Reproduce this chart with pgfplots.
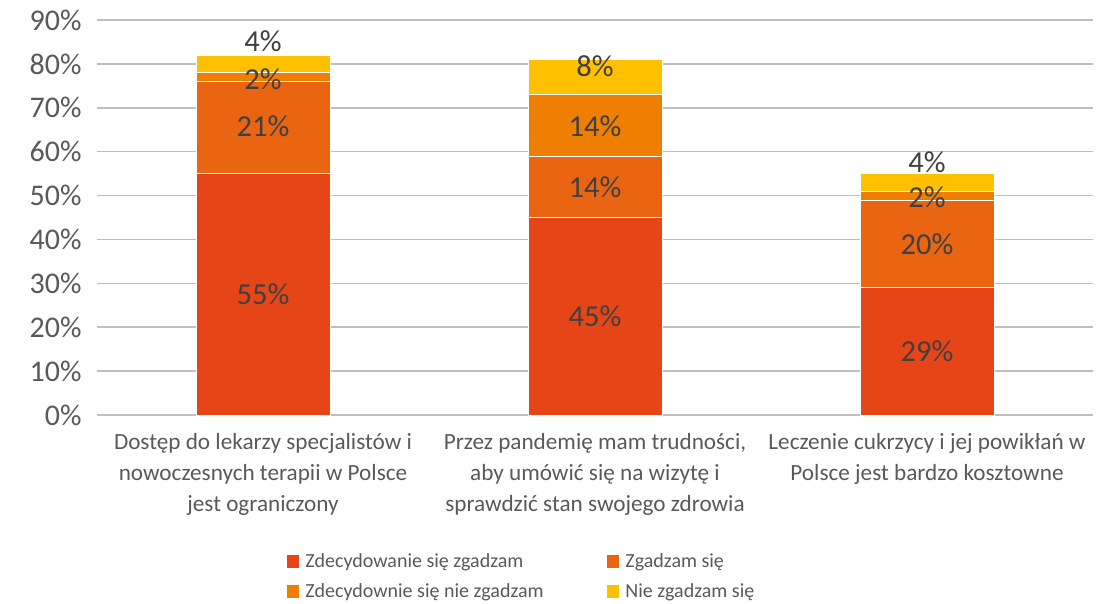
\documentclass[border=0pt]{standalone}
\usepackage{fontspec}
\setmainfont{Carlito}
\usepackage{pgfplots}
\pgfplotsset{compat=1.18}
\definecolor{cA}{HTML}{E64517}
\definecolor{cB}{HTML}{EA6512}
\definecolor{cC}{HTML}{EE7F00}
\definecolor{cD}{HTML}{FFC000}
\definecolor{grid}{HTML}{D9D9D9}
\definecolor{tick}{HTML}{595959}
\definecolor{lab}{HTML}{404040}
\begin{document}
\begin{tikzpicture}
\pgfplotsset{
  base/.style={
    scale only axis, width=996pt, height=395pt,
    xmin=-0.5, xmax=2.5, ymin=0, ymax=90,
    axis line style={draw=none},
  }
}
\begin{axis}[base,
  ybar stacked, bar width=134pt,
  ytick={0,10,...,90},
  ymajorgrids, xmajorgrids=false, grid style={grid, line width=1.5pt},
  major tick length=0pt, tick style={draw=none},
  yticklabel={\pgfmathprintnumber{\tick}\%},
  /pgf/number format/assume math mode=true,
  yticklabel style={font=\fontsize{30}{30}\selectfont, text=tick, xshift=-12pt},
  xtick={0,1,2},
  xticklabels={{Dostęp do lekarzy specjalistów i\\nowoczesnych terapii w Polsce\\jest ograniczony},
    {Przez pandemię mam trudności,\\aby umówić się na wizytę i\\sprawdzić stan swojego zdrowia},
    {Leczenie cukrzycy i jej powikłań w\\Polsce jest bardzo kosztowne}},
  xticklabel style={font=\fontsize{23.2}{31}\selectfont, text=tick, align=center, yshift=-15pt},
  legend columns=2,
  legend style={draw=none, fill=none, at={(0.188,-0.34)}, anchor=north west,
    font=\fontsize{20}{24}\selectfont, text=tick,
    nodes={text width=300pt, align=flush left, inner sep=2pt},
    row sep=11pt},
  legend image code/.code={\fill[#1, draw=none] (0pt,-6.5pt) rectangle (12pt,6.5pt);
    \path[draw=none, fill=none] (0pt,0pt) -- (16pt,0pt);},
  every axis plot/.append style={draw=white, line width=0.5pt},
]
\addplot[fill=cA] coordinates {(0,55) (1,45) (2,29)};
\addplot[fill=cB] coordinates {(0,21) (1,14) (2,20)};
\addplot[fill=cC] coordinates {(0,2) (1,14) (2,2)};
\addplot[fill=cD] coordinates {(0,4) (1,8) (2,4)};
\legend{Zdecydowanie się zgadzam, Zgadzam się, Zdecydownie się nie zgadzam, Nie zgadzam się}
\end{axis}
\begin{axis}[base, hide axis,
  nodes near coords, point meta=explicit symbolic,
  every node near coord/.style={anchor=center, font=\fontsize{30.5}{30}\selectfont, text=lab},
]
\addplot[draw=none, mark=none] coordinates {
  (0,27.5)[55\%] (0,65.8)[21\%] (0,76.6)[2\%] (0,85.2)[4\%]
  (1,22.5)[45\%] (1,52)[14\%] (1,65.8)[14\%] (1,79.4)[8\%]
  (2,14.5)[29\%] (2,38.8)[20\%] (2,49.6)[2\%] (2,57.6)[4\%]
};
\end{axis}
\path (0,0) ++(-97pt,-189pt) rectangle ++(1105pt,604pt);
\end{tikzpicture}
\end{document}
